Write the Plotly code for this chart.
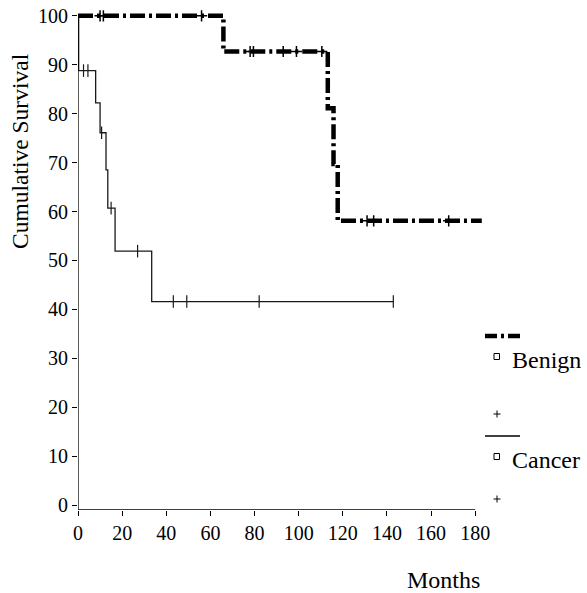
import plotly.graph_objects as go

# ---- data ----
BENIGN_T = [0, 65.9, 113.2, 115.8, 117.7, 183]
BENIGN_S = [100, 92.7, 81.1, 69.7, 58.1, 58.1]
BENIGN_CENS_T = [10, 11.5, 56, 78, 79.5, 93, 99, 110.5, 131, 134, 168]
BENIGN_CENS_S = [100, 100, 100, 92.7, 92.7, 92.7, 92.7, 92.7, 58.1, 58.1, 58.1]

CANCER_T = [0, 0.3, 8.0, 10.0, 12.7, 13.5, 16.8, 33.4, 142.9]
CANCER_S = [100, 88.8, 82.2, 76.1, 68.5, 60.7, 51.9, 41.6, 41.6]
CANCER_CENS_T = [2.5, 4.5, 10.7, 15.0, 27.0, 43.2, 49.3, 82.1, 142.9]
CANCER_CENS_S = [88.8, 88.8, 76.1, 60.7, 51.9, 41.6, 41.6, 41.6, 41.6]

X_TICKS = [0, 20, 40, 60, 80, 100, 120, 140, 160, 180]
Y_TICKS = [0, 10, 20, 30, 40, 50, 60, 70, 80, 90, 100]
SERIES = ["Benign", "Cancer"]
X_TITLE = "Months"
Y_TITLE = "Cumulative Survival"

X_RANGE = [0, 184]
Y_RANGE = [-1, 102]

FONT = "Liberation Serif"
W, H = 587, 593
ML, MR, MT, MB = 78, 103, 6, 83
PW, PH = W - ML - MR, H - MT - MB


def px(xp):
    return (xp - ML) / PW


def py(yp):
    return (H - MB - yp) / PH


fig = go.Figure()

fig.add_trace(go.Scatter(
    x=CANCER_T, y=CANCER_S, mode="lines", line_shape="hv",
    line=dict(color="#1a1a1a", width=1.3), name=SERIES[1], showlegend=False))
fig.add_trace(go.Scatter(
    x=CANCER_CENS_T, y=CANCER_CENS_S, mode="markers",
    marker=dict(symbol="line-ns", size=9, line=dict(color="#1a1a1a", width=1.2)),
    showlegend=False, cliponaxis=False))

fig.add_trace(go.Scatter(
    x=BENIGN_T, y=BENIGN_S, mode="lines", line_shape="hv",
    line=dict(color="black", width=4.5, dash="15px,4px,3px,4px"),
    name=SERIES[0], showlegend=False))
fig.add_trace(go.Scatter(
    x=BENIGN_CENS_T, y=BENIGN_CENS_S, mode="markers",
    marker=dict(symbol="cross-thin", size=8, line=dict(color="black", width=1.5)),
    showlegend=False, cliponaxis=False))


def plus(cx, cy, r=3.5):
    st = dict(type="line", xref="paper", yref="paper", line=dict(color="black", width=1))
    return [
        dict(st, x0=px(cx - r), x1=px(cx + r), y0=py(cy), y1=py(cy)),
        dict(st, x0=px(cx), x1=px(cx), y0=py(cy - r), y1=py(cy + r)),
    ]


shapes = [
    # axis lines
    dict(type="line", xref="x", yref="y", x0=X_TICKS[0], x1=X_TICKS[0],
         y0=Y_RANGE[0], y1=Y_TICKS[-1], line=dict(color="black", width=1.3)),
    dict(type="line", xref="x", yref="y", x0=X_TICKS[0], x1=X_TICKS[-1],
         y0=Y_RANGE[0], y1=Y_RANGE[0], line=dict(color="black", width=1.3)),
    # legend: benign
    dict(type="line", xref="paper", yref="paper", x0=px(485), x1=px(520),
         y0=py(336), y1=py(336), line=dict(color="black", width=4.5, dash="12px,4px,3px,4px")),
    dict(type="rect", xref="paper", yref="paper", x0=px(494), x1=px(499.5),
         y0=py(353.5), y1=py(359.5), line=dict(color="black", width=1)),
    # legend: cancer
    dict(type="line", xref="paper", yref="paper", x0=px(485), x1=px(520),
         y0=py(436), y1=py(436), line=dict(color="black", width=1.3)),
    dict(type="rect", xref="paper", yref="paper", x0=px(494), x1=px(499.5),
         y0=py(453.5), y1=py(459.5), line=dict(color="black", width=1)),
] + plus(497, 414) + plus(497, 499)

annotations = [
    dict(text=Y_TITLE, xref="paper", yref="paper", x=px(20), y=py(151),
         textangle=-90, showarrow=False, xanchor="center", yanchor="middle",
         font=dict(family=FONT, size=23.5, color="black")),
    dict(text=X_TITLE, xref="paper", yref="paper", x=px(443), y=py(580),
         showarrow=False, xanchor="center", yanchor="middle",
         font=dict(family=FONT, size=24, color="black")),
    dict(text=SERIES[0], xref="paper", yref="paper", x=px(510), y=py(360),
         showarrow=False, xanchor="left", yanchor="middle",
         font=dict(family=FONT, size=24, color="black")),
    dict(text=SERIES[1], xref="paper", yref="paper", x=px(510), y=py(460),
         showarrow=False, xanchor="left", yanchor="middle",
         font=dict(family=FONT, size=24, color="black")),
]

fig.update_layout(
    width=W, height=H, autosize=False,
    margin=dict(l=ML, r=MR, t=MT, b=MB, pad=0),
    paper_bgcolor="white", plot_bgcolor="white",
    showlegend=False,
    shapes=shapes, annotations=annotations,
    xaxis=dict(range=X_RANGE, tickvals=X_TICKS, ticktext=[str(v) for v in X_TICKS],
               ticks="outside", ticklen=5, tickwidth=1.2, tickcolor="black",
               showline=False, showgrid=False, zeroline=False,
               tickfont=dict(family=FONT, size=20, color="black")),
    yaxis=dict(range=Y_RANGE, tickvals=Y_TICKS, ticktext=[str(v) for v in Y_TICKS],
               ticks="outside", ticklen=5, tickwidth=1.2, tickcolor="black",
               showline=False, showgrid=False, zeroline=False,
               tickfont=dict(family=FONT, size=20, color="black")),
)

fig.write_html(
    "out.html",
    config={"displayModeBar": False},
    post_script="document.body.style.margin='0';document.body.style.overflow='hidden';",
)
